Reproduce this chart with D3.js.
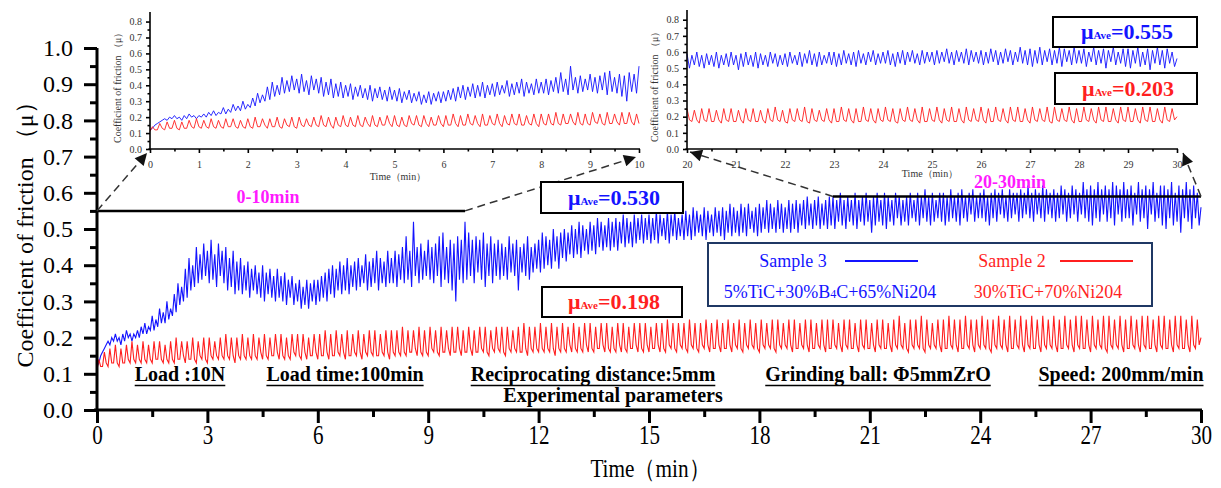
<!DOCTYPE html>
<html>
<head>
<meta charset="utf-8">
<script src="https://cdn.jsdelivr.net/npm/d3@7"></script>
<style>
  body { margin: 0; background: #fff; }
  svg { display: block; }
</style>
</head>
<body>
<div id="viz"></div>
<script>

// friction curves, one reading every 0.05 min from 0 to 30 min (20 per row = 1 min)
const step = 0.05;

// Sample 3 : 5%TiC+30%B4C+65%Ni204 (blue)
const sample3 = [
  0.12,0.13,0.15,0.16,0.17,0.18,0.19,0.18,0.20,0.19,0.21,0.19,0.20,0.18,0.21,0.19,0.22,0.20,0.21,0.19,
  0.21,0.20,0.22,0.20,0.23,0.21,0.24,0.21,0.23,0.22,0.26,0.22,0.25,0.23,0.28,0.24,0.27,0.24,0.30,0.25,
  0.28,0.26,0.32,0.27,0.35,0.29,0.34,0.30,0.39,0.31,0.42,0.33,0.40,0.34,0.45,0.35,0.43,0.36,0.46,0.37,
  0.44,0.35,0.47,0.36,0.43,0.34,0.46,0.37,0.44,0.35,0.45,0.33,0.42,0.34,0.44,0.32,0.41,0.33,0.42,0.32,
  0.40,0.33,0.41,0.31,0.39,0.33,0.40,0.32,0.38,0.31,0.40,0.30,0.38,0.32,0.39,0.31,0.37,0.30,0.39,0.31,
  0.37,0.30,0.38,0.29,0.36,0.31,0.37,0.29,0.35,0.30,0.36,0.28,0.34,0.29,0.36,0.28,0.35,0.30,0.36,0.29,
  0.36,0.30,0.37,0.31,0.38,0.30,0.39,0.32,0.40,0.31,0.39,0.33,0.41,0.32,0.40,0.33,0.42,0.32,0.40,0.34,
  0.41,0.33,0.42,0.34,0.40,0.35,0.43,0.33,0.41,0.34,0.42,0.35,0.44,0.33,0.42,0.35,0.41,0.34,0.44,0.35,
  0.42,0.35,0.44,0.34,0.43,0.36,0.45,0.35,0.48,0.36,0.44,0.34,0.52,0.37,0.45,0.35,0.46,0.36,0.44,0.37,
  0.47,0.36,0.45,0.35,0.46,0.37,0.48,0.34,0.49,0.36,0.45,0.35,0.47,0.33,0.46,0.30,0.48,0.36,0.47,0.35,
  0.52,0.36,0.49,0.37,0.47,0.35,0.48,0.38,0.47,0.36,0.49,0.34,0.46,0.37,0.48,0.35,0.46,0.37,0.47,0.36,
  0.46,0.37,0.45,0.36,0.48,0.38,0.46,0.37,0.47,0.33,0.45,0.38,0.46,0.37,0.48,0.36,0.45,0.38,0.46,0.39,
  0.47,0.38,0.49,0.39,0.48,0.40,0.47,0.39,0.50,0.41,0.48,0.39,0.49,0.42,0.50,0.41,0.49,0.43,0.51,0.42,
  0.50,0.43,0.52,0.42,0.51,0.44,0.50,0.43,0.52,0.44,0.51,0.43,0.53,0.45,0.52,0.44,0.51,0.45,0.53,0.44,
  0.52,0.45,0.53,0.44,0.52,0.46,0.54,0.45,0.53,0.46,0.52,0.45,0.54,0.46,0.53,0.47,0.54,0.46,0.53,0.47,
  0.54,0.46,0.53,0.47,0.55,0.46,0.54,0.48,0.53,0.47,0.55,0.46,0.54,0.48,0.55,0.47,0.53,0.48,0.54,0.47,
  0.55,0.48,0.54,0.47,0.56,0.48,0.55,0.49,0.54,0.48,0.56,0.47,0.55,0.49,0.54,0.48,0.56,0.49,0.55,0.48,
  0.56,0.47,0.55,0.49,0.57,0.48,0.56,0.49,0.55,0.48,0.57,0.49,0.56,0.48,0.57,0.50,0.55,0.49,0.56,0.48,
  0.57,0.49,0.56,0.50,0.58,0.49,0.57,0.50,0.56,0.49,0.58,0.50,0.57,0.49,0.56,0.50,0.58,0.49,0.57,0.50,
  0.58,0.49,0.57,0.51,0.58,0.50,0.59,0.51,0.57,0.50,0.58,0.51,0.59,0.50,0.57,0.51,0.58,0.50,0.59,0.51,
  0.59,0.50,0.58,0.52,0.60,0.51,0.58,0.50,0.59,0.52,0.58,0.51,0.60,0.50,0.58,0.52,0.59,0.51,0.60,0.52,
  0.58,0.49,0.59,0.51,0.60,0.52,0.58,0.51,0.60,0.50,0.59,0.52,0.58,0.51,0.60,0.53,0.59,0.51,0.58,0.52,
  0.59,0.51,0.60,0.53,0.58,0.52,0.60,0.51,0.59,0.53,0.61,0.52,0.59,0.51,0.60,0.52,0.58,0.53,0.60,0.52,
  0.60,0.51,0.59,0.52,0.61,0.53,0.59,0.52,0.60,0.51,0.61,0.53,0.59,0.52,0.60,0.54,0.61,0.52,0.59,0.53,
  0.60,0.53,0.61,0.52,0.59,0.51,0.60,0.53,0.61,0.52,0.60,0.54,0.61,0.53,0.59,0.52,0.61,0.53,0.60,0.54,
  0.60,0.52,0.61,0.53,0.60,0.54,0.62,0.53,0.60,0.52,0.61,0.54,0.60,0.53,0.62,0.52,0.61,0.54,0.60,0.53,
  0.61,0.52,0.60,0.53,0.62,0.54,0.61,0.52,0.60,0.53,0.62,0.54,0.61,0.52,0.60,0.54,0.63,0.53,0.61,0.52,
  0.62,0.51,0.61,0.53,0.63,0.52,0.61,0.54,0.62,0.52,0.61,0.53,0.63,0.51,0.62,0.54,0.61,0.52,0.63,0.53,
  0.61,0.53,0.62,0.51,0.60,0.54,0.63,0.52,0.61,0.53,0.62,0.50,0.61,0.54,0.63,0.52,0.60,0.53,0.62,0.51,
  0.62,0.50,0.61,0.53,0.63,0.51,0.60,0.52,0.62,0.49,0.61,0.53,0.63,0.52,0.61,0.50,0.62,0.53,0.60,0.51,
  0.56
];

// Sample 2 : 30%TiC+70%Ni204 (red)
const sample2 = [
  0.11,0.14,0.12,0.12,0.16,0.13,0.12,0.17,0.13,0.13,0.18,0.13,0.12,0.17,0.13,0.13,0.18,0.14,0.13,0.19,
  0.14,0.13,0.18,0.14,0.13,0.19,0.14,0.13,0.18,0.14,0.13,0.19,0.14,0.14,0.19,0.14,0.13,0.18,0.14,0.13,
  0.19,0.14,0.13,0.20,0.14,0.14,0.19,0.15,0.13,0.19,0.14,0.14,0.20,0.14,0.13,0.19,0.15,0.14,0.20,0.14,
  0.13,0.20,0.15,0.14,0.19,0.15,0.14,0.20,0.15,0.14,0.21,0.15,0.14,0.20,0.15,0.13,0.20,0.15,0.14,0.21,
  0.15,0.14,0.20,0.15,0.14,0.21,0.15,0.14,0.20,0.16,0.14,0.21,0.15,0.14,0.20,0.15,0.15,0.21,0.16,0.14,
  0.21,0.15,0.14,0.20,0.15,0.14,0.21,0.16,0.15,0.21,0.15,0.14,0.21,0.16,0.14,0.20,0.15,0.15,0.21,0.16,
  0.14,0.21,0.15,0.15,0.22,0.16,0.14,0.21,0.15,0.15,0.22,0.16,0.15,0.21,0.16,0.14,0.22,0.15,0.15,0.21,
  0.16,0.15,0.22,0.16,0.14,0.21,0.16,0.15,0.22,0.16,0.15,0.22,0.15,0.15,0.21,0.16,0.15,0.22,0.16,0.14,
  0.22,0.16,0.15,0.22,0.16,0.15,0.23,0.16,0.15,0.22,0.16,0.16,0.22,0.17,0.15,0.23,0.16,0.15,0.22,0.16,
  0.15,0.23,0.17,0.16,0.22,0.16,0.15,0.23,0.16,0.16,0.22,0.17,0.15,0.23,0.16,0.16,0.23,0.17,0.15,0.22,
  0.16,0.16,0.23,0.17,0.15,0.22,0.16,0.16,0.23,0.17,0.16,0.23,0.16,0.15,0.22,0.17,0.16,0.23,0.17,0.16,
  0.23,0.16,0.15,0.23,0.17,0.16,0.22,0.17,0.16,0.23,0.16,0.16,0.24,0.17,0.15,0.23,0.17,0.16,0.23,0.17,
  0.16,0.24,0.17,0.16,0.23,0.17,0.16,0.24,0.17,0.15,0.23,0.17,0.16,0.24,0.17,0.16,0.23,0.18,0.16,0.24,
  0.17,0.16,0.23,0.17,0.16,0.24,0.18,0.16,0.24,0.17,0.16,0.23,0.17,0.17,0.24,0.18,0.16,0.24,0.17,0.16,
  0.23,0.17,0.16,0.24,0.18,0.16,0.24,0.17,0.16,0.23,0.17,0.17,0.24,0.18,0.16,0.24,0.17,0.16,0.24,0.18,
  0.16,0.23,0.17,0.17,0.24,0.18,0.16,0.24,0.17,0.16,0.25,0.18,0.17,0.24,0.17,0.16,0.24,0.18,0.17,0.24,
  0.17,0.16,0.25,0.18,0.17,0.24,0.17,0.16,0.24,0.18,0.17,0.25,0.18,0.16,0.24,0.17,0.17,0.25,0.18,0.16,
  0.24,0.17,0.17,0.25,0.18,0.16,0.24,0.18,0.17,0.25,0.17,0.16,0.24,0.18,0.17,0.25,0.18,0.17,0.24,0.17,
  0.16,0.25,0.18,0.17,0.24,0.18,0.17,0.25,0.17,0.16,0.25,0.18,0.17,0.24,0.18,0.17,0.25,0.18,0.16,0.25,
  0.17,0.17,0.24,0.18,0.17,0.25,0.18,0.16,0.25,0.17,0.17,0.24,0.18,0.17,0.25,0.18,0.16,0.25,0.17,0.17,
  0.25,0.18,0.17,0.24,0.18,0.16,0.25,0.18,0.17,0.25,0.17,0.17,0.24,0.18,0.16,0.25,0.18,0.17,0.25,0.17,
  0.17,0.24,0.18,0.16,0.25,0.18,0.17,0.25,0.17,0.17,0.24,0.18,0.16,0.25,0.18,0.17,0.26,0.18,0.17,0.24,
  0.17,0.16,0.25,0.18,0.17,0.25,0.18,0.17,0.26,0.17,0.16,0.25,0.18,0.17,0.24,0.18,0.17,0.25,0.18,0.16,
  0.25,0.17,0.17,0.26,0.18,0.17,0.25,0.18,0.16,0.25,0.17,0.17,0.26,0.18,0.17,0.25,0.18,0.16,0.25,0.18,
  0.17,0.26,0.18,0.17,0.25,0.17,0.16,0.25,0.18,0.17,0.26,0.18,0.17,0.25,0.18,0.16,0.26,0.17,0.17,0.25,
  0.18,0.17,0.26,0.18,0.16,0.25,0.18,0.17,0.26,0.17,0.17,0.25,0.18,0.16,0.26,0.18,0.17,0.25,0.18,0.17,
  0.26,0.18,0.16,0.25,0.17,0.17,0.26,0.18,0.17,0.25,0.18,0.16,0.26,0.18,0.17,0.26,0.17,0.17,0.25,0.18,
  0.16,0.26,0.18,0.17,0.25,0.18,0.17,0.26,0.17,0.16,0.26,0.18,0.17,0.25,0.18,0.17,0.26,0.18,0.16,0.25,
  0.17,0.17,0.26,0.18,0.17,0.25,0.18,0.16,0.26,0.18,0.17,0.26,0.17,0.17,0.25,0.18,0.16,0.26,0.18,0.17,
  0.26,0.17,0.17,0.25,0.18,0.16,0.26,0.18,0.17,0.26,0.17,0.17,0.25,0.18,0.16,0.26,0.18,0.17,0.25,0.18,
  0.20
];

const mainXTicks = [0, 3, 6, 9, 12, 15, 18, 21, 24, 27, 30];
const mainYTicks = [0, 0.1, 0.2, 0.3, 0.4, 0.5, 0.6, 0.7, 0.8, 0.9, 1.0];
const inset1XTicks = [0, 1, 2, 3, 4, 5, 6, 7, 8, 9, 10];
const inset2XTicks = [20, 21, 22, 23, 24, 25, 26, 27, 28, 29, 30];
const insetYTicks = [0, 0.1, 0.2, 0.3, 0.4, 0.5, 0.6, 0.7, 0.8];

// zoomed windows (min) and the level of the bracket line drawn on the main plot
const zoomWindows = [[0, 10], [20, 30]];
const zoomLevels = [0.55, 0.59];
const zoomLabels = ["0-10min", "20-30min"];

const aveMain = ["0.530", "0.198"];
const aveInset = ["0.555", "0.203"];

const legendNames = ["Sample 3", "Sample 2"];
const legendRecipes = [["5%TiC+30%B", "4", "C+65%Ni204"], ["30%TiC+70%Ni204"]];

const params = ["Load :10N", "Load time:100min", "Reciprocating distance:5mm", "Grinding ball: Φ5mmZrO", "Speed: 200mm/min"];
const paramX = [180, 345, 593, 878, 1121];

const blue = "#1414ff";
const red = "#ff1f1f";
const magenta = "#ff1aff";

let s3 = sample3.map((v, i) => ({ t: +(i * step).toFixed(2), mu: v }));
let s2 = sample2.map((v, i) => ({ t: +(i * step).toFixed(2), mu: v }));

let svg = d3.select("#viz").append("svg")
  .attr("width", 1221)
  .attr("height", 488)
  .style("font-family", "'Liberation Serif', 'Times New Roman', serif");

svg.append("defs").append("marker")
  .attr("id", "arrow")
  .attr("viewBox", "0 0 10 10")
  .attr("refX", 10)
  .attr("refY", 5)
  .attr("markerWidth", 15)
  .attr("markerHeight", 12)
  .attr("markerUnits", "userSpaceOnUse")
  .attr("orient", "auto")
  .append("path")
  .attr("d", "M0,0L10,5L0,10z")
  .attr("fill", "#111");

// scales
let xMain = d3.scaleLinear().domain([0, 30]).range([97, 1201]);
let yMain = d3.scaleLinear().domain([0, 1]).range([410, 48]);
let x1 = d3.scaleLinear().domain([0, 10]).range([150, 639]);
let y1 = d3.scaleLinear().domain([0, 0.86]).range([149, 12]);
let x2 = d3.scaleLinear().domain([20, 30]).range([687, 1177]);
let y2 = d3.scaleLinear().domain([0, 0.86]).range([149, 10]);

function mids(ticks) {
  let out = [];
  for (let i = 0; i < ticks.length - 1; i++) out.push((ticks[i] + ticks[i + 1]) / 2);
  return out;
}

// axes with major + minor ticks, ticks pointing outward
function drawAxes(x, y, xt, yt, yTop, o) {
  let gxm = svg.append("g")
    .attr("transform", `translate(0,${y(0)})`)
    .call(d3.axisBottom(x).tickValues(mids(xt)).tickSize(o.minor).tickSizeOuter(0).tickFormat(""));
  gxm.select(".domain").remove();
  let gym = svg.append("g")
    .attr("transform", `translate(${x(xt[0])},0)`)
    .call(d3.axisLeft(y).tickValues(mids(yt)).tickSize(o.minor).tickSizeOuter(0).tickFormat(""));
  gym.select(".domain").remove();

  let gx = svg.append("g")
    .attr("transform", `translate(0,${y(0)})`)
    .call(d3.axisBottom(x).tickValues(xt).tickSize(o.major).tickSizeOuter(0).tickFormat(d3.format("d")));
  let gy = svg.append("g")
    .attr("transform", `translate(${x(xt[0])},0)`)
    .call(d3.axisLeft(y).tickValues(yt).tickSize(o.major).tickSizeOuter(0).tickPadding(o.pad).tickFormat(d3.format(".1f")));
  gy.select(".domain").attr("d", `M0,${y(0)}V${y(yTop)}`);

  [gxm, gym, gx, gy].forEach(g => {
    g.selectAll("line, path").attr("stroke", "#000").attr("stroke-width", o.w);
    g.attr("font-family", null).attr("font-size", null);
  });
  gx.select(".domain").attr("d", `M${x(xt[0]) - o.w},0H${x(xt[xt.length - 1]) + 1}`);

  gx.selectAll("text")
    .attr("y", o.xLabelY).attr("dy", null)
    .style("font-size", o.xFont + "px")
    .attr("fill", o.color)
    .attr("transform", o.xSquash ? `scale(${o.xSquash},1)` : null);
  gy.selectAll("text")
    .style("font-size", o.yFont + "px")
    .attr("fill", o.color);
  return { gx, gy };
}

/**************** curves ****************/
let lineMain = d3.line().x(d => xMain(d.t)).y(d => yMain(d.mu));
let line1 = d3.line().x(d => x1(d.t)).y(d => y1(d.mu));
let line2 = d3.line().x(d => x2(d.t)).y(d => y2(d.mu));

function inWin(data, w) { return data.filter(d => d.t >= w[0] && d.t <= w[1]); }

svg.append("path").datum(s3).attr("fill", "none").attr("stroke", blue).attr("stroke-width", 1.1).attr("d", lineMain);
svg.append("path").datum(s2).attr("fill", "none").attr("stroke", red).attr("stroke-width", 1.1).attr("d", lineMain);

svg.append("path").datum(inWin(s3, zoomWindows[0])).attr("fill", "none").attr("stroke", blue).attr("stroke-width", 0.9).attr("d", line1);
svg.append("path").datum(inWin(s2, zoomWindows[0])).attr("fill", "none").attr("stroke", red).attr("stroke-width", 0.9).attr("d", line1);
svg.append("path").datum(inWin(s3, zoomWindows[1])).attr("fill", "none").attr("stroke", blue).attr("stroke-width", 0.9).attr("d", line2);
svg.append("path").datum(inWin(s2, zoomWindows[1])).attr("fill", "none").attr("stroke", red).attr("stroke-width", 0.9).attr("d", line2);

/**************** axes ****************/
drawAxes(xMain, yMain, mainXTicks, mainYTicks, 1.0,
  { w: 3, major: 13, minor: 7, pad: 11, xFont: 27, yFont: 24, xLabelY: 34, xSquash: 0.78, color: "#000" });

let insetStyle = { w: 1.6, major: 4, minor: 2.5, pad: 4, xFont: 10, yFont: 10, xLabelY: 19, color: "#333" };
drawAxes(x1, y1, inset1XTicks, insetYTicks, 0.86, insetStyle);
drawAxes(x2, y2, inset2XTicks, insetYTicks, 0.86, insetStyle);

// axis titles
svg.append("text")
  .attr("transform", `translate(25,${yMain(0.5)}) rotate(-90)`)
  .attr("text-anchor", "middle")
  .attr("dy", "0.35em")
  .style("font-size", "24px")
  .text("Coefficient of friction （μ）");

svg.append("text")
  .attr("transform", "translate(650,477) scale(0.85,1)")
  .attr("text-anchor", "middle")
  .style("font-size", "25px")
  .text("Time（min）");

[[x1, y1, 117, 398, 180], [x2, y2, 654, 930, 177]].forEach(a => {
  svg.append("text")
    .attr("transform", `translate(${a[2]},${a[1](0.4)}) rotate(-90)`)
    .attr("text-anchor", "middle")
    .attr("dy", "0.35em")
    .style("font-size", "10px")
    .attr("fill", "#333")
    .text("Coefficient of friction （μ）");
  svg.append("text")
    .attr("x", a[3])
    .attr("y", a[4])
    .attr("text-anchor", "middle")
    .style("font-size", "10px")
    .attr("fill", "#333")
    .text("Time（min）");
});

/**************** zoom brackets + arrows ****************/
zoomWindows.forEach((w, i) => {
  svg.append("line")
    .attr("x1", xMain(w[0])).attr("x2", xMain(w[1]))
    .attr("y1", yMain(zoomLevels[i])).attr("y2", yMain(zoomLevels[i]))
    .attr("stroke", "#000").attr("stroke-width", 2.5);
});

let arrows = [
  [xMain(zoomWindows[0][0]), yMain(zoomLevels[0]), x1(0) - 3, y1(0) + 4],
  [xMain(zoomWindows[0][1]), yMain(zoomLevels[0]), x1(10) - 3, y1(0) + 8],
  [xMain(zoomWindows[1][0]), yMain(zoomLevels[1]), x2(20) + 3, y2(0) + 3],
  [xMain(zoomWindows[1][1]), yMain(zoomLevels[1]), x2(30) + 6, y2(0) + 4]
];
svg.selectAll(".arrow")
  .data(arrows)
  .enter().append("line")
  .attr("class", "arrow")
  .attr("x1", d => d[0]).attr("y1", d => d[1])
  .attr("x2", d => d[2]).attr("y2", d => d[3])
  .attr("stroke", "#333")
  .attr("stroke-width", 1.5)
  .attr("stroke-dasharray", "8,5")
  .attr("marker-end", "url(#arrow)");

svg.append("text").attr("x", 268).attr("y", 203).attr("text-anchor", "middle")
  .style("font-size", "18px").style("font-weight", "bold").attr("fill", magenta).text(zoomLabels[0]);
svg.append("text").attr("x", 1010).attr("y", 188).attr("text-anchor", "middle")
  .style("font-size", "18px").style("font-weight", "bold").attr("fill", magenta).text(zoomLabels[1]);

/**************** μAve boxes ****************/
function aveBox(x, y, w, h, val, color) {
  svg.append("rect")
    .attr("x", x).attr("y", y).attr("width", w).attr("height", h)
    .attr("fill", "#fff").attr("stroke", "#000").attr("stroke-width", 2);
  let t = svg.append("text")
    .attr("x", x + w / 2 + 2).attr("y", y + h / 2 + 7)
    .attr("text-anchor", "middle")
    .style("font-weight", "bold")
    .attr("fill", color);
  t.append("tspan").style("font-size", "22px").text("μ");
  t.append("tspan").style("font-size", "11px").text("Ave");
  t.append("tspan").style("font-size", "22px").text("=" + val);
}
aveBox(541, 182, 142, 31, aveMain[0], blue);
aveBox(542, 287, 140, 30, aveMain[1], red);
aveBox(1053, 17, 144, 30, aveInset[0], blue);
aveBox(1055, 73, 142, 31, aveInset[1], red);

/**************** legend ****************/
svg.append("rect")
  .attr("x", 708).attr("y", 243).attr("width", 444).attr("height", 63)
  .attr("fill", "#fff").attr("stroke", "#1f3864").attr("stroke-width", 2);

[[793, 845, blue], [1012, 1060, red]].forEach((l, i) => {
  svg.append("text").attr("x", l[0]).attr("y", 267).attr("text-anchor", "middle")
    .style("font-size", "18px").attr("fill", l[2]).text(legendNames[i]);
  svg.append("line").attr("x1", l[1]).attr("x2", l[1] + 73).attr("y1", 261).attr("y2", 261)
    .attr("stroke", l[2]).attr("stroke-width", 2);
});

let rec1 = svg.append("text").attr("x", 830).attr("y", 298).attr("text-anchor", "middle")
  .style("font-size", "18px").attr("fill", blue);
rec1.append("tspan").text(legendRecipes[0][0]);
rec1.append("tspan").style("font-size", "12px").text(legendRecipes[0][1]);
rec1.append("tspan").text(legendRecipes[0][2]);
svg.append("text").attr("x", 1048).attr("y", 298).attr("text-anchor", "middle")
  .style("font-size", "18px").attr("fill", red).text(legendRecipes[1][0]);

/**************** experimental parameters ****************/
params.forEach((p, i) => {
  let t = svg.append("text")
    .attr("x", paramX[i]).attr("y", 381)
    .attr("text-anchor", "middle")
    .style("font-size", "20px").style("font-weight", "bold")
    .text(p);
  let len = t.node().getComputedTextLength();
  svg.append("line")
    .attr("x1", paramX[i] - len / 2).attr("x2", paramX[i] + len / 2)
    .attr("y1", 385.5).attr("y2", 385.5)
    .attr("stroke", "#000").attr("stroke-width", 1.5);
});

svg.append("text")
  .attr("x", 613).attr("y", 402)
  .attr("text-anchor", "middle")
  .style("font-size", "20px").style("font-weight", "bold")
  .text("Experimental parameters");

</script>
</body>
</html>
